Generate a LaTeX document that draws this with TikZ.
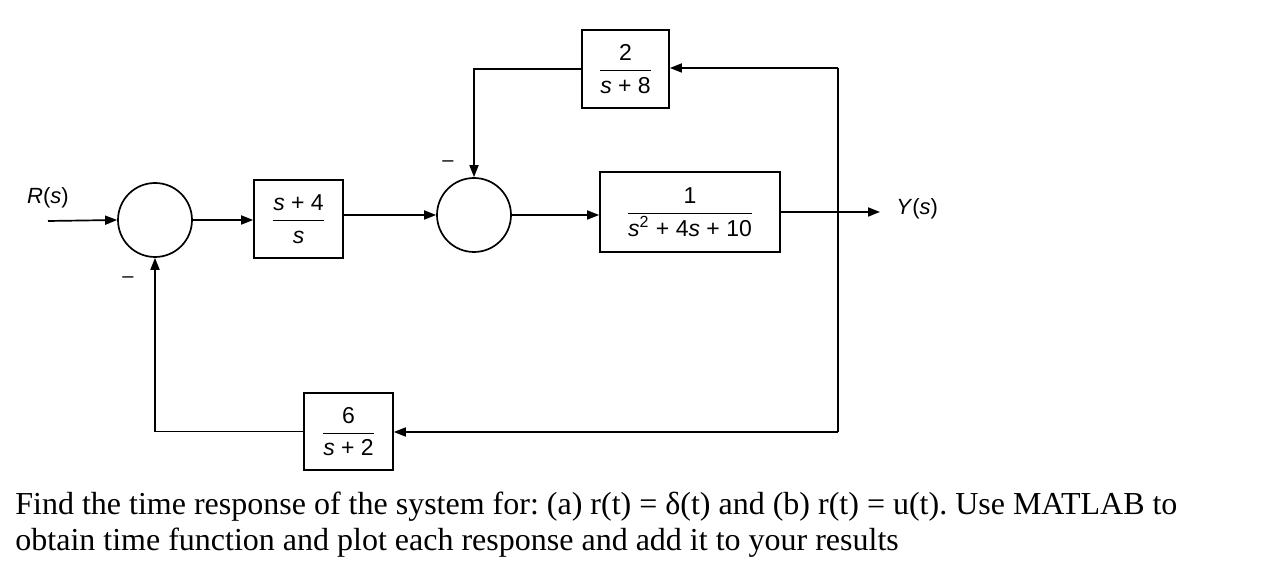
\documentclass[tikz,border=0pt]{standalone}
\usepackage{fontspec}
\setmainfont{Liberation Serif}
\newfontfamily\diag{Liberation Sans}
\usetikzlibrary{arrows.meta}
\tikzset{
  wire/.style={line width=0.85pt},
  blk/.style={draw, wire, rectangle, inner sep=0pt, font=\diag\fontsize{11.5}{13}\selectfont},
  sumc/.style={draw, wire, circle, minimum size=37pt, inner sep=0pt},
  lbl/.style={font=\diag\fontsize{11}{13}\selectfont, inner sep=0pt},
  sgn/.style={font=\diag\fontsize{10}{12}\selectfont, inner sep=0pt},
  arr/.style={wire, -{Triangle[length=6pt,width=4.5pt]}},
  txt/.style={font=\frenchspacing\fontsize{16}{19}\selectfont, inner sep=0pt, anchor=base west}
}
\newcommand{\tf}[2]{$\displaystyle\frac{\mbox{#1}}{\mbox{#2}}$}
\begin{document}
\begin{tikzpicture}[x=0.5pt,y=-0.5pt]
\useasboundingbox (0,0) rectangle (1272,576);
% blocks
\node[blk, minimum width=43.5pt, minimum height=39pt] (g1) at (625.5,69) {\tf{2}{\textit{s} + 8}};
\node[sumc] (s1) at (155,220) {};
\node[blk, minimum width=44.5pt, minimum height=39pt] (g2) at (298.5,219) {\tf{\textit{s} + 4}{\textit{s}}};
\node[sumc] (s2) at (474,215) {};
\node[blk, minimum width=90pt, minimum height=40pt] (g3) at (690,212) {\tf{1}{\textit{s}\textsuperscript{2} + 4\textit{s} + 10}};
\node[blk, minimum width=44.5pt, minimum height=38.5pt] (g4) at (348.5,431.5) {\tf{6}{\textit{s} + 2}};
% labels
\node[lbl] (rl) at (48,198) {\textit{R}(\textit{s})};
\node[lbl, anchor=west] (yl) at (896,209) {\textit{Y}(\textit{s})};
\node[sgn] (m1) at (128,280) {–};
\node[sgn] (m2) at (448,164) {–};
% coordinates
\coordinate (rin) at (48,221);
\coordinate (yout) at (880,212);
\coordinate (ctop) at (838,68);
\coordinate (cbot) at (838,432);
% connectors
\draw[arr] (rin) -- (s1.west);
\draw[arr] (s1.east) -- (g2.west |- s1.east);
\draw[arr] (g2.east |- s2.west) -- (s2.west);
\draw[arr] (s2.east) -- (g3.west |- s2.east);
\draw[arr] (g3.east |- yout) -- (yout);
\draw[wire] (ctop) -- (cbot);
\draw[arr] (ctop) -- (g1.east |- ctop);
\draw[arr] (g1.west) -| (s2.north);
\draw[arr] (cbot) -- (g4.east |- cbot);
\draw[arr] (g4.west) -| (s1.south);
% question text
\node[txt] (q1) at (15,514) {Find the time response of the system for: (a) r(t) = δ(t) and (b) r(t) = u(t). Use MATLAB to};
\node[txt] (q2) at (15,550) {obtain time function and plot each response and add it to your results};
\end{tikzpicture}
\end{document}
